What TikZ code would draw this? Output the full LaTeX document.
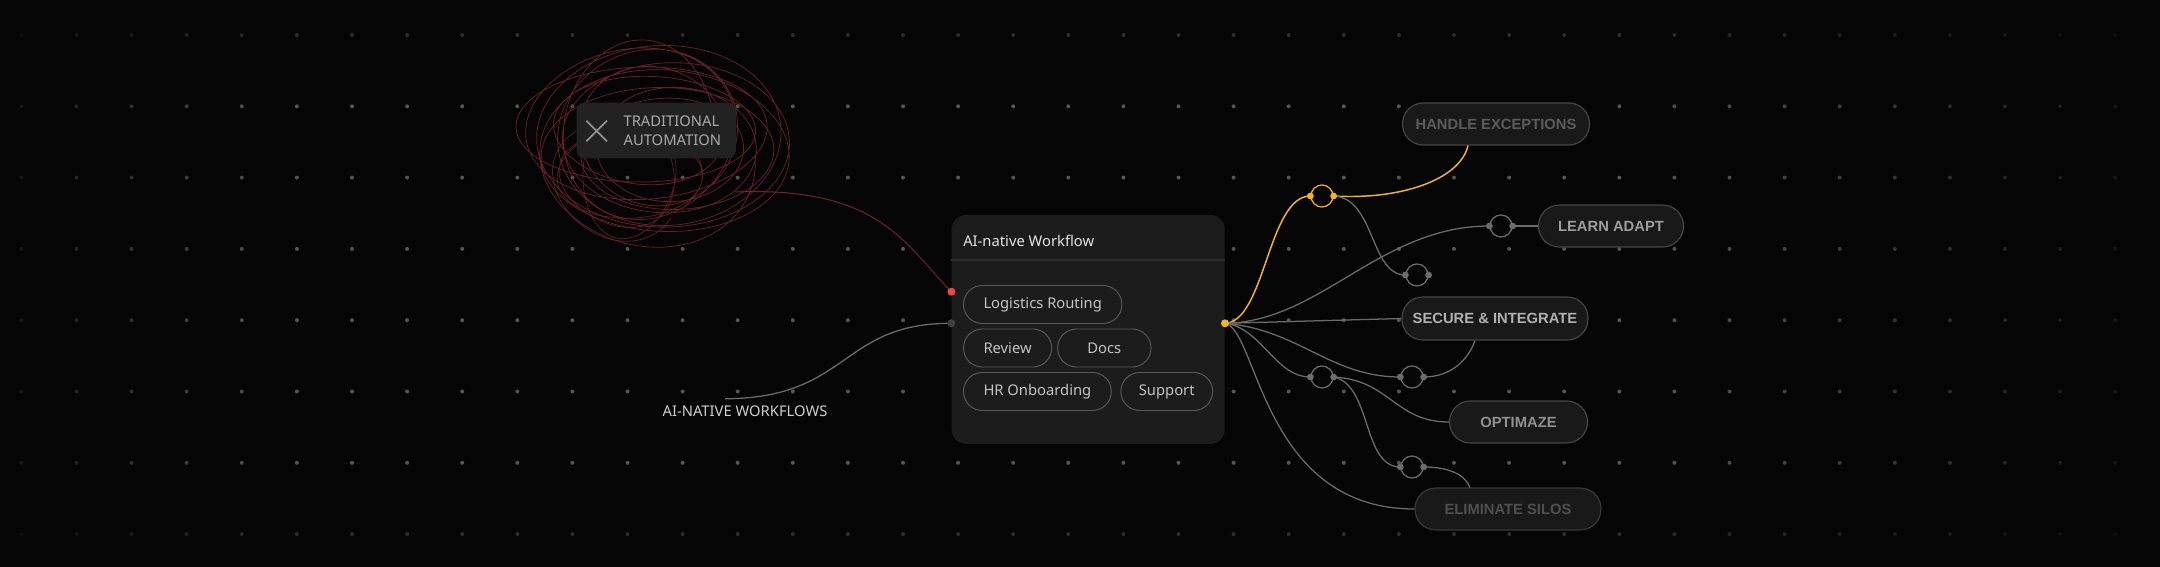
\documentclass[tikz,border=0pt]{standalone}
\usepackage{fontspec}
\setmainfont{Noto Sans}
\newfontfamily\pillfont{Liberation Sans}
\usetikzlibrary{positioning}

\definecolor{bgblack}{HTML}{050505}
\definecolor{dotgray}{HTML}{555555}
\definecolor{cardgray}{HTML}{1C1C1C}
\definecolor{cardline}{HTML}{2E2E2E}
\definecolor{chipline}{HTML}{585858}
\definecolor{chiptext}{HTML}{C4C4C4}
\definecolor{titlewhite}{HTML}{E6E6E6}
\definecolor{wiregray}{HTML}{6C6C6C}
\definecolor{amber}{HTML}{F2B42C}
\definecolor{portred}{HTML}{E5484D}
\definecolor{scribred}{HTML}{74252B}
\definecolor{tradgray}{HTML}{222222}
\definecolor{tradtext}{HTML}{ABABAB}
\definecolor{pillgray}{HTML}{191919}
\definecolor{pillline}{HTML}{474747}

\tikzset{
  wire/.style={draw=wiregray, line width=0.9pt},
  hotwire/.style={draw=amber, line width=1.05pt},
  chip/.style={draw=chipline, line width=0.7pt, fill=cardgray, rounded corners=4.7mm,
    minimum height=9.5mm, inner xsep=5mm, text=chiptext, font=\fontsize{10.5}{12}\selectfont},
  pill/.style={draw=pillline, line width=0.8pt, fill=pillgray, rounded corners=5.2mm,
    minimum height=10.5mm, font=\pillfont\bfseries\fontsize{10.5}{12}\selectfont},
  junction/.style={circle, draw=wiregray, line width=0.9pt, fill=bgblack, minimum size=5.5mm, inner sep=0pt},
}

\begin{document}
\begin{tikzpicture}[x=0.25mm, y=-0.25mm]
  \useasboundingbox (0,0) rectangle (2160,567);
  \fill[bgblack] (0,0) rectangle (2160,567);

  % dot grid, fading out to the edges
  \foreach \i in {0,...,38}{
    \foreach \j in {0,...,7}{
      \pgfmathsetmacro\dx{21.4+55.1*\i}
      \pgfmathsetmacro\dy{35+71.3*\j}
      \pgfmathsetmacro\op{min(1,(\dx+60)/350,(2250-\dx)/600)*ifthenelse(or(\j==0,\j==7),0.5,1)}
      \fill[dotgray, opacity=\op] (\dx,\dy) circle (0.5mm);
    }
  }

  % the tangle of the old way
  \draw[scribred, line width=0.55pt, opacity=0.85] plot[domain=0:4320, samples=720, smooth, variable=\t]
    ({655+(100+28*sin(0.23*\t))*cos(\t)+15*sin(0.071*\t)}, {142+(72+20*cos(0.17*\t))*sin(\t)+14*cos(0.053*\t)});
  \draw[scribred, line width=0.55pt, opacity=0.75] plot[domain=0:1440, samples=260, smooth, variable=\t]
    ({625+(60+18*sin(0.31*\t))*cos(\t+40)}, {175+(55+12*cos(0.41*\t))*sin(\t+40)});
  \coordinate (scribend) at (735,192);

  \node[fill=tradgray, rounded corners=2mm, minimum width=39.8mm, minimum height=13.9mm] (tradbox) at (656.3,130.5) {};
  \node[minimum size=5mm, inner sep=0pt] (xmark) at (596.7,131) {};
  \draw[tradtext!85!black, line width=1.3pt] (xmark.north west) -- (xmark.south east) (xmark.north east) -- (xmark.south west);
  \node[anchor=west, align=left, inner sep=0pt, text=tradtext, font=\fontsize{10.5}{13.7}\selectfont] (tradlabel) at (623.3,130.5) {TRADITIONAL\\AUTOMATION};

  \node[inner sep=0pt, text=titlewhite!90!black, font=\fontsize{10.5}{12}\selectfont] (ainative) at (745,411.5) {AI-NATIVE WORKFLOWS};

  % workflow card
  \node[fill=cardgray, rounded corners=3.5mm, minimum width=68.25mm, minimum height=57.25mm] (card) at (1088.2,329.5) {};
  \node[anchor=west, inner sep=0pt, text=titlewhite, font=\fontsize{10.5}{12}\selectfont] (cardtitle) at (963,241) {AI-native Workflow};
  \draw[cardline, line width=0.8pt] (card.west |- 0,260) -- (card.east |- 0,260);
  \node[chip, anchor=west] (logistics) at (963,304.5) {Logistics Routing};
  \node[chip, anchor=west] (review) at (963,348) {Review};
  \node[chip, right=1.25mm of review, minimum width=23.35mm] (docs) {Docs};
  \node[chip, anchor=west] (hronb) at (963,391.5) {HR Onboarding};
  \node[chip, right=2.15mm of hronb, inner xsep=4.5mm] (support) {Support};

  \coordinate (redport) at (card.west |- 0,291.7);
  \coordinate (grayport) at (card.west |- 0,323.3);
  \coordinate (yport) at (card.east |- 0,323.3);

  % outcome pills
  \node[pill, minimum width=46.75mm, text=white!36!black] (handle) at (1496,124) {HANDLE EXCEPTIONS};
  \node[pill, minimum width=36.25mm, text=white!62!black] (learn) at (1611,226) {LEARN ADAPT};
  \node[pill, minimum width=46.5mm, minimum height=10.75mm, text=white!70!black] (secure) at (1495,318.5) {SECURE \& INTEGRATE};
  \node[pill, minimum width=34.5mm, text=white!57!black] (optim) at (1518.5,422) {OPTIMAZE};
  \node[pill, minimum width=46.5mm, draw=pillline!80!black, text=white!31!black] (elim) at (1508,509) {ELIMINATE SILOS};

  \node[junction, draw=amber] (j1) at (1322,196) {};
  \node[junction] (j2) at (1501,226) {};
  \node[junction] (j3) at (1417,275) {};
  \node[junction] (j4) at (1322,377) {};
  \node[junction] (j5) at (1412,377) {};
  \node[junction] (j6) at (1412,467) {};

  % wires
  \draw[scribred, line width=0.7pt] (scribend) .. controls (880,186) and (905,245) .. (redport);
  \draw[wire] ([shift={(-20,-7)}]ainative.north) .. controls (850,398) and (840,323) .. (grayport);

  \draw[hotwire] (yport) .. controls (1265,322) and (1268,196) .. (j1.west);
  \draw[hotwire] (j1.east) .. controls (1400,200) and (1460,180) .. ([shift={(-28,0)}]handle.south);
  \draw[wire] (j1.east) .. controls (1375,198) and (1370,275) .. (j3.west);
  \draw[wire] (yport) .. controls (1320,322) and (1380,226) .. (j2.west);
  \draw[wire] (j2.east) -- (learn.west);
  \draw[wire] (yport) -- (secure.west);
  \draw[wire] (yport) .. controls (1300,330) and (1330,377) .. (j5.west);
  \draw[wire] (j5.east) .. controls (1455,377) and (1470,355) .. ([shift={(-20,0)}]secure.south);
  \draw[wire] (yport) .. controls (1262,328) and (1275,377) .. (j4.west);
  \draw[wire] (j4.east) .. controls (1390,380) and (1395,422) .. (optim.west);
  \draw[wire] (j4.east) .. controls (1372,385) and (1362,467) .. (j6.west);
  \draw[wire] (j6.east) .. controls (1450,467) and (1465,475) .. ([shift={(-38,0)}]elim.north);
  \draw[wire] (yport) .. controls (1258,330) and (1262,509) .. (elim.west);

  % ports
  \fill[portred] (redport) circle (1mm);
  \fill[wiregray!130] (grayport) circle (1mm);
  \fill[amber] (yport) circle (1mm);
  \fill[amber] (j1.west) circle (0.85mm) (j1.east) circle (0.85mm);
  \foreach \n in {j2,j3,j4,j5,j6}
    \fill[wiregray] (\n.west) circle (0.85mm) (\n.east) circle (0.85mm);
\end{tikzpicture}
\end{document}
